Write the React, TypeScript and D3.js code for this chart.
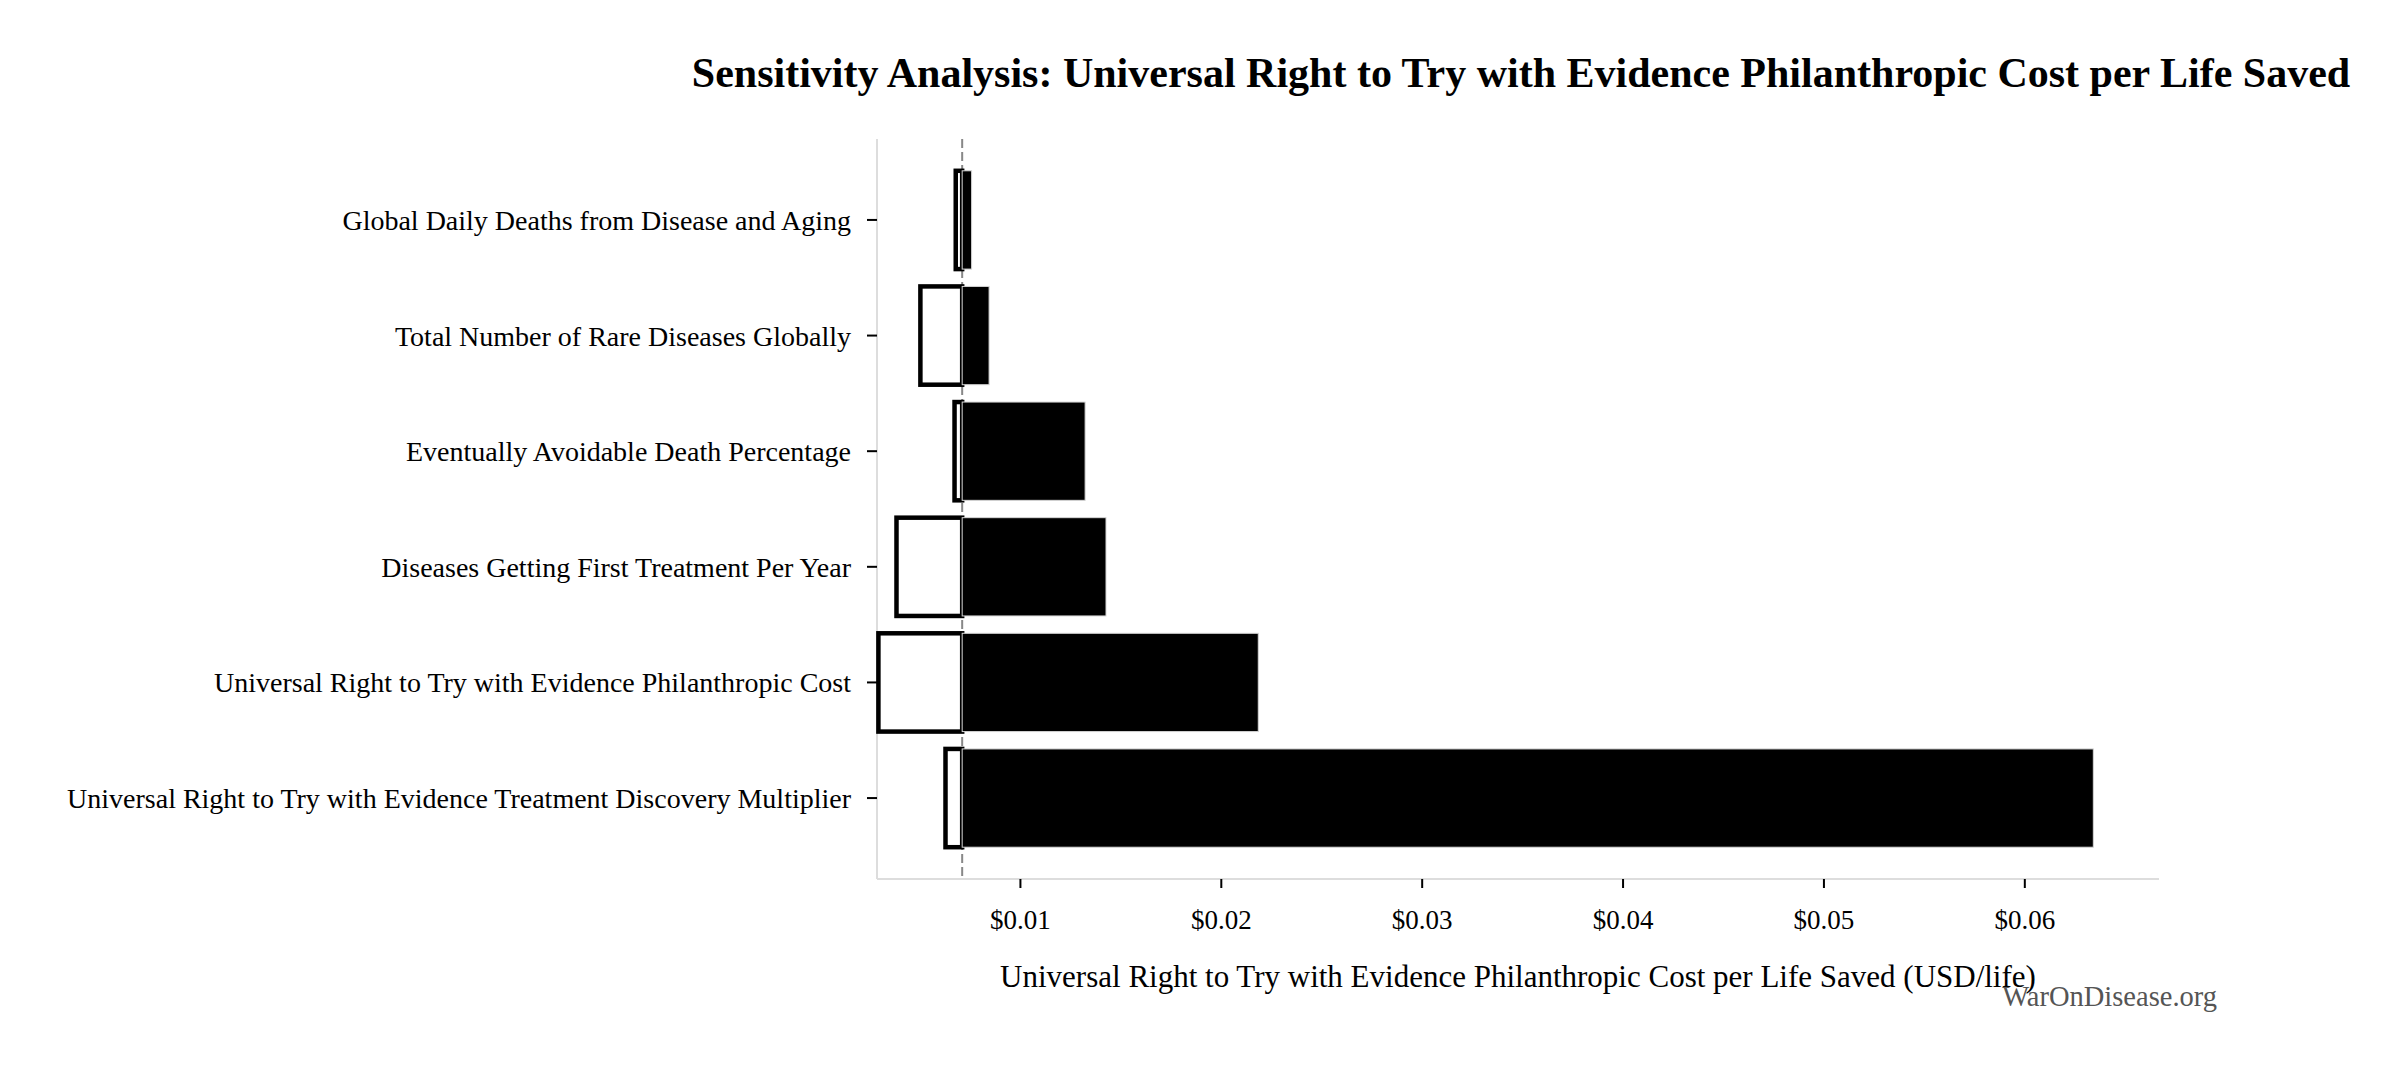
import React, { useMemo } from 'react'
import * as d3 from 'd3'

// values (USD per life saved)
const categories = [
  'Global Daily Deaths from Disease and Aging',
  'Total Number of Rare Diseases Globally',
  'Eventually Avoidable Death Percentage',
  'Diseases Getting First Treatment Per Year',
  'Universal Right to Try with Evidence Philanthropic Cost',
  'Universal Right to Try with Evidence Treatment Discovery Multiplier',
]
const lowValues = [0.00678, 0.00502, 0.00672, 0.00383, 0.00293, 0.00627]
const highValues = [0.00757, 0.00844, 0.01322, 0.01426, 0.02184, 0.06341]
const baselineValue = 0.0071
const xTicks = [0.01, 0.02, 0.03, 0.04, 0.05, 0.06]
const xDomain: [number, number] = [0.00286, 0.06668]

const title = 'Sensitivity Analysis: Universal Right to Try with Evidence Philanthropic Cost per Life Saved'
const xLabel = 'Universal Right to Try with Evidence Philanthropic Cost per Life Saved (USD/life)'
const watermark = 'WarOnDisease.org'

const W = 2399
const H = 1071
const left = 877
const right = 2159
const top = 139
const bottom = 879
const FONT = '"Liberation Serif", "DejaVu Serif", serif'

const App: React.FC = () => {
  const x = useMemo(() => d3.scaleLinear().domain(xDomain).range([left, right]), [])
  const y = useMemo(
    () => d3.scalePoint<string>().domain(categories).range([top, bottom]).padding(0.7),
    []
  )
  const barH = y.step() * 0.85
  const fmt = d3.format('$.2f')

  return (
    <svg
      width={W}
      height={H}
      style={{ position: 'absolute', left: 0, top: 0, background: '#fff', fontFamily: FONT }}
    >
      <text x={1521} y={87} textAnchor="middle" fontSize={42} fontWeight="bold" fill="#000">
        {title}
      </text>

      {/* axes spines */}
      <line x1={left} x2={left} y1={top} y2={bottom} stroke="#dddddd" strokeWidth={2} />
      <line x1={left} x2={right} y1={bottom} y2={bottom} stroke="#dddddd" strokeWidth={2} />

      {/* baseline, under the bars */}
      <line
        x1={x(baselineValue)}
        x2={x(baselineValue)}
        y1={top}
        y2={bottom}
        stroke="#888"
        strokeWidth={2}
        strokeDasharray="9,4"
      />

      {/* bars */}
      {categories.map((c, i) => {
        const cy = y(c) as number
        const base = x(baselineValue)
        const lo = x(lowValues[i])
        const hi = x(highValues[i])
        return (
          <g key={c}>
            <rect
              x={Math.min(lo, base)}
              y={cy - barH / 2}
              width={Math.abs(base - lo)}
              height={barH}
              fill="#fff"
              stroke="#000"
              strokeWidth={4.5}
            />
            <rect
              x={Math.min(hi, base)}
              y={cy - barH / 2}
              width={Math.abs(hi - base)}
              height={barH}
              fill="#000"
              stroke="#d6d6d6"
              strokeWidth={1}
            />
          </g>
        )
      })}

      {/* y ticks and labels */}
      {categories.map(c => {
        const cy = y(c) as number
        return (
          <g key={c}>
            <line x1={left - 10} x2={left} y1={cy} y2={cy} stroke="#000" strokeWidth={2} />
            <text x={851} y={cy + 10} textAnchor="end" fontSize={28} fill="#000">
              {c}
            </text>
          </g>
        )
      })}

      {/* x ticks and labels */}
      {xTicks.map(t => (
        <g key={t}>
          <line x1={x(t)} x2={x(t)} y1={bottom} y2={bottom + 9} stroke="#000" strokeWidth={2} />
          <text x={x(t)} y={929} textAnchor="middle" fontSize={27} fill="#000">
            {fmt(t)}
          </text>
        </g>
      ))}

      <text x={(left + right) / 2} y={987} textAnchor="middle" fontSize={31} fill="#000">
        {xLabel}
      </text>
      <text x={2217} y={1006} textAnchor="end" fontSize={28.5} fill="#555">
        {watermark}
      </text>
    </svg>
  )
}

export default App
